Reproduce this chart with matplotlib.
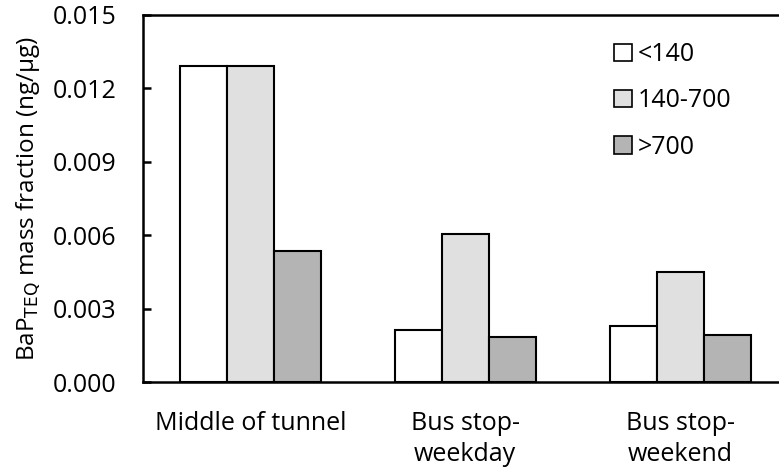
import matplotlib
matplotlib.use("Agg")
import matplotlib.pyplot as plt
import numpy as np

plt.rcParams['font.family'] = ['Open Sans', 'DejaVu Sans']

categories = ["Middle of tunnel", "Bus stop-\nweekday", "Bus stop-\nweekend"]
series_names = ["<140", "140-700", ">700"]
values_lt140 = [0.0129, 0.00211, 0.00230]
values_140_700 = [0.0129, 0.00606, 0.00451]
values_gt700 = [0.00535, 0.00183, 0.00191]
yticks = [0.000, 0.003, 0.006, 0.009, 0.012, 0.015]

fills = ["#ffffff", "#e0e0e0", "#b4b4b4"]

fig = plt.figure(figsize=(7.79, 4.70), dpi=100)
ax = fig.add_axes([143 / 779, 1 - 382 / 470, (787.5 - 143) / 779, (382 - 15) / 470])

x = np.arange(len(categories))
w = 0.219
for i, (vals, name, fc) in enumerate(zip([values_lt140, values_140_700, values_gt700], series_names, fills)):
    ax.bar(x + (i - 1) * w, vals, width=w, color=fc, edgecolor="black", linewidth=1.5, label=name)

ax.set_xlim(-0.5, 2.5)
ax.set_ylim(0, 0.015)
ax.set_yticks(yticks)
ax.set_yticklabels([f"{v:.3f}" for v in yticks])
ax.set_xticks(x)
ax.set_xticklabels(categories, linespacing=1.3)

ax.tick_params(axis="y", direction="in", length=6, width=1.8, labelsize=18, pad=19)
ax.tick_params(axis="x", length=0, labelsize=18, pad=21)

for side in ["left", "bottom", "top"]:
    ax.spines[side].set_linewidth(1.8)
ax.spines["right"].set_visible(False)

ax.set_ylabel("BaP$_{\\mathrm{TEQ}}$ mass fraction (ng/μg)", fontsize=17.5, labelpad=7)

leg = ax.legend(loc="upper left", bbox_to_anchor=((614 - 143) / (787.5 - 143), 1 - 27 / 367),
                frameon=False, fontsize=18, handlelength=0.7, handleheight=0.7,
                handletextpad=0.25, labelspacing=0.85, borderaxespad=0, borderpad=0)
for h in leg.legend_handles:
    h.set_linewidth(1.2)

fig.savefig("out.png", dpi=100)
